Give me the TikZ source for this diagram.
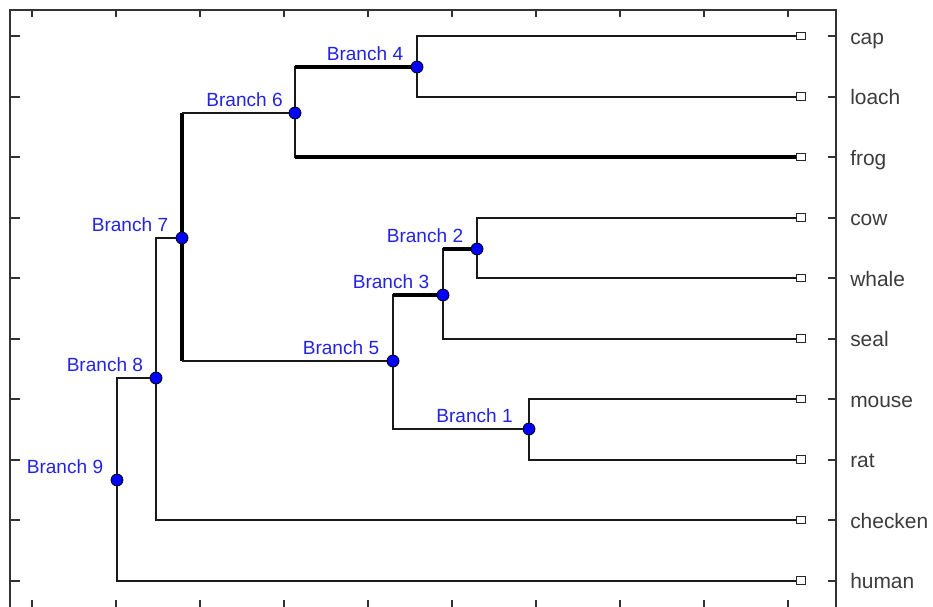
\documentclass[tikz,border=0pt]{standalone}
\usepackage{fontspec}
\setmainfont{Liberation Sans}
\definecolor{bluetext}{RGB}{35,35,225}
\definecolor{graytext}{RGB}{60,60,60}

\begin{document}
\begin{tikzpicture}[x=0.75pt, y=-0.75pt,
    edge/.style={draw=black!90, line width=1.5pt},
    heavy/.style={draw=black, line width=2.6pt},
    axis/.style={draw=black!80, line width=1.5pt},
    branch/.style={circle, draw=black, line width=0.6pt, fill=blue, minimum size=9pt, inner sep=0pt},
    leaf/.style={rectangle, draw=black!85, line width=0.9pt, fill=white, minimum width=7pt, minimum height=5.5pt, inner sep=0pt},
    blabel/.style={anchor=east, inner sep=0pt, text=bluetext, font=\fontsize{14.3}{17}\selectfont},
    llabel/.style={anchor=base west, inner sep=0pt, text=graytext, font=\fontsize{15.7}{19}\selectfont}]
    \useasboundingbox (0,0) rectangle (933,607);

    % Frame and ticks
    \draw[axis] (836,607) -- (836,10) -- (10,10) -- (10,607);
    \draw[axis] (32.3,10) -- (32.3,17) (116.3,10) -- (116.3,17) (200.3,10) -- (200.3,17)
        (284.3,10) -- (284.3,17) (368.3,10) -- (368.3,17) (452.3,10) -- (452.3,17)
        (536.3,10) -- (536.3,17) (620.3,10) -- (620.3,17) (704.3,10) -- (704.3,17)
        (788.3,10) -- (788.3,17);
    \draw[axis] (32.3,600) -- (32.3,607) (116.3,600) -- (116.3,607) (200.3,600) -- (200.3,607)
        (284.3,600) -- (284.3,607) (368.3,600) -- (368.3,607) (452.3,600) -- (452.3,607)
        (536.3,600) -- (536.3,607) (620.3,600) -- (620.3,607) (704.3,600) -- (704.3,607)
        (788.3,600) -- (788.3,607);
    \draw[axis] (10,36) -- (20,36) (10,96.5) -- (20,96.5) (10,217.5) -- (20,217.5)
        (10,278) -- (20,278) (10,338.5) -- (20,338.5) (10,399) -- (20,399)
        (10,459.5) -- (20,459.5) (10,520) -- (20,520) (10,580.5) -- (20,580.5);
    \draw[axis, line width=2.2pt] (10,157) -- (20,157);
    \draw[axis] (828,36) -- (836,36) (828,96.5) -- (836,96.5) (828,157) -- (836,157)
        (828,217.5) -- (836,217.5) (828,278) -- (836,278) (828,338.5) -- (836,338.5)
        (828,399) -- (836,399) (828,459.5) -- (836,459.5) (828,520) -- (836,520)
        (828,580.5) -- (836,580.5);

    % Leaves
    \node[leaf] (cap) at (801,36) {};
    \node[leaf] (loach) at (801,96.5) {};
    \node[leaf] (frog) at (801,157) {};
    \node[leaf] (cow) at (801,217.5) {};
    \node[leaf] (whale) at (801,278) {};
    \node[leaf] (seal) at (801,338.5) {};
    \node[leaf] (mouse) at (801,399) {};
    \node[leaf] (rat) at (801,459.5) {};
    \node[leaf] (checken) at (801,520) {};
    \node[leaf] (human) at (801,580.5) {};

    \node[llabel] (tcap) at (850,44) {cap};
    \node[llabel] (tloach) at (850,104.5) {loach};
    \node[llabel] (tfrog) at (850,165) {frog};
    \node[llabel] (tcow) at (850,225.5) {cow};
    \node[llabel] (twhale) at (850,286) {whale};
    \node[llabel] (tseal) at (850,346.5) {seal};
    \node[llabel] (tmouse) at (850,407) {mouse};
    \node[llabel] (trat) at (850,467.5) {rat};
    \node[llabel] (tchecken) at (850,528) {checken};
    \node[llabel] (thuman) at (850,588.5) {human};

    % Branch points
    \node[branch] (b1) at (529,429) {};
    \node[branch] (b2) at (477,249) {};
    \node[branch] (b3) at (443,295) {};
    \node[branch] (b4) at (417,67) {};
    \node[branch] (b5) at (393,361) {};
    \node[branch] (b6) at (295,113) {};
    \node[branch] (b7) at (182,238) {};
    \node[branch] (b8) at (156,378) {};
    \node[branch] (b9) at (117,480) {};

    \node[blabel] (tb1) at ([xshift=-12pt, yshift=9.75pt]b1) {Branch 1};
    \node[blabel] (tb2) at ([xshift=-10.2pt, yshift=9.75pt]b2) {Branch 2};
    \node[blabel] (tb3) at ([xshift=-10.2pt, yshift=9.75pt]b3) {Branch 3};
    \node[blabel] (tb4) at ([xshift=-10.2pt, yshift=9.75pt]b4) {Branch 4};
    \node[blabel] (tb5) at ([xshift=-10.2pt, yshift=9.75pt]b5) {Branch 5};
    \node[blabel] (tb6) at ([xshift=-9pt, yshift=9.75pt]b6) {Branch 6};
    \node[blabel] (tb7) at ([xshift=-10.2pt, yshift=9.75pt]b7) {Branch 7};
    \node[blabel] (tb8) at ([xshift=-9.5pt, yshift=9.75pt]b8) {Branch 8};
    \node[blabel] (tb9) at ([xshift=-10.2pt, yshift=9.75pt]b9) {Branch 9};

    % Draw connections
    \draw[edge] (b4) |- (cap);
    \draw[edge] (b4) |- (loach);
    \draw[edge] (b6) |- (b4);
    \draw[heavy] (b6 |- b4) -- (b4);
    \draw[edge] (b6) |- (frog);
    \draw[heavy] (b6 |- frog) -- (frog);
    \draw[heavy] (b7) -- (b7 |- b6);
    \draw[edge] (b7 |- b6) -- (b6);
    \draw[heavy] (b7) -- (b7 |- b5);
    \draw[edge] (b7 |- b5) -- (b5);
    \draw[edge] (b5) |- (b3);
    \draw[heavy] (b5 |- b3) -- (b3);
    \draw[edge] (b5) |- (b1);
    \draw[edge] (b3) |- (b2);
    \draw[heavy] (b3 |- b2) -- (b2);
    \draw[edge] (b3) |- (seal);
    \draw[edge] (b2) |- (cow);
    \draw[edge] (b2) |- (whale);
    \draw[edge] (b1) |- (mouse);
    \draw[edge] (b1) |- (rat);
    \draw[edge] (b8) |- (b7);
    \draw[edge] (b8) |- (checken);
    \draw[edge] (b9) |- (b8);
    \draw[edge] (b9) |- (human);
\end{tikzpicture}
\end{document}
